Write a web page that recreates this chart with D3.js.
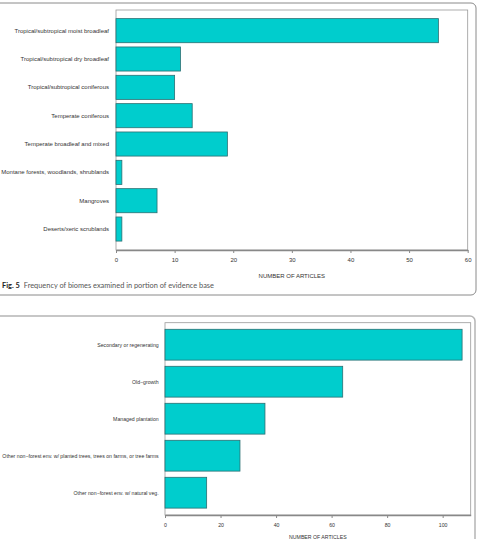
<!DOCTYPE html>
<html>
<head>
<meta charset="utf-8">
<script src="https://cdn.jsdelivr.net/npm/d3@7"></script>
<style>
  body { margin: 0; background: #fff; }
  svg { display: block; }
  .bar-label { font-family: "Liberation Sans", Arial, sans-serif; fill: #333; }
  .axis text { font-family: "Liberation Sans", Arial, sans-serif; fill: #333; }
  .axis-title { font-family: "Liberation Sans", Arial, sans-serif; fill: #333; }
  .caption { font-family: Lato, "Open Sans", sans-serif; font-size: 7.4px; }
</style>
</head>
<body>
<svg id="chart" width="478" height="539"></svg>
<script>
// top panel: biomes
const biomes = [
  "Tropical/subtropical moist broadleaf",
  "Tropical/subtropical dry broadleaf",
  "Tropical/subtropical coniferous",
  "Temperate coniferous",
  "Temperate broadleaf and mixed",
  "Montane forests, woodlands, shrublands",
  "Mangroves",
  "Deserts/xeric scrublands",
];
const biomeCounts = [55, 11, 10, 13, 19, 1, 7, 1];
const biomeTicks = [0, 10, 20, 30, 40, 50, 60];

// bottom panel: forest types
const forestTypes = [
  "Secondary or regenerating",
  "Old\u2212growth",
  "Managed plantation",
  "Other non\u2212forest env. w/ planted trees, trees on farms, or tree farms",
  "Other non\u2212forest env. w/ natural veg.",
];
const forestCounts = [107, 64, 36, 27, 15];
const forestTicks = [0, 20, 40, 60, 80, 100];

const axisTitle = "NUMBER OF ARTICLES";

const svg = d3.select("#chart");

function drawPanelBox(box) {
  svg
    .append("rect")
    .attr("x", box.x)
    .attr("y", box.y)
    .attr("width", box.w)
    .attr("height", box.h)
    .attr("rx", 5)
    .attr("fill", "none")
    .attr("stroke", box.color)
    .attr("stroke-width", box.width);
}

function drawBarChart(categories, values, ticks, cfg) {
  const g = svg.append("g");

  const x = d3.scaleLinear().domain([0, cfg.xMax]).range([cfg.left, cfg.right]);
  const y = d3
    .scaleBand()
    .domain(categories)
    .range([cfg.bandTop, cfg.bandBottom])
    .paddingInner(cfg.pad)
    .paddingOuter(cfg.pad / 2);

  // plot frame
  g.append("rect")
    .attr("x", cfg.left)
    .attr("y", cfg.top)
    .attr("width", cfg.right - cfg.left)
    .attr("height", cfg.bottom - cfg.top)
    .attr("fill", "none")
    .attr("stroke", "#999")
    .attr("stroke-width", 0.8);

  g.selectAll(".bar")
    .data(categories)
    .enter()
    .append("rect")
    .attr("class", "bar")
    .attr("x", x(0))
    .attr("y", (d) => y(d))
    .attr("width", (d, i) => x(values[i]) - x(0))
    .attr("height", y.bandwidth())
    .attr("fill", "#00cdcd")
    .attr("stroke", "#2b6f72")
    .attr("stroke-width", 0.8);

  g.selectAll(".bar-label")
    .data(categories)
    .enter()
    .append("text")
    .attr("class", "bar-label")
    .attr("x", cfg.left - cfg.labelGap)
    .attr("y", (d) => y(d) + y.bandwidth() / 2)
    .attr("dy", "0.35em")
    .attr("text-anchor", "end")
    .style("font-size", cfg.fontSize + "px")
    .text((d) => d);

  const axis = g
    .append("g")
    .attr("class", "axis")
    .attr("transform", `translate(0,${cfg.bottom})`)
    .call(d3.axisBottom(x).tickValues(ticks).tickSize(3).tickPadding(5).tickSizeOuter(0));
  axis.select(".domain").attr("stroke", "#888").attr("stroke-width", 1.5);
  axis.selectAll(".tick line").attr("stroke", "#888");
  axis.selectAll("text").style("font-size", cfg.fontSize + "px");

  g.append("text")
    .attr("class", "axis-title")
    .attr("x", (cfg.left + cfg.right) / 2)
    .attr("y", cfg.titleY)
    .attr("text-anchor", "middle")
    .style("font-size", cfg.fontSize + "px")
    .text(axisTitle);
}

drawPanelBox({ x: -5, y: 3, w: 481, h: 292, color: "#8a8a8a", width: 1 });
drawPanelBox({ x: -5, y: 316, w: 480, h: 260, color: "#b5b5b5", width: 1.5 });

drawBarChart(biomes, biomeCounts, biomeTicks, {
  xMax: 60,
  left: 116,
  right: 467.7,
  top: 10,
  bottom: 250,
  bandTop: 16.5,
  bandBottom: 243.2,
  pad: 0.15,
  labelGap: 7,
  fontSize: 6,
  titleY: 277.5,
});

drawBarChart(forestTypes, forestCounts, forestTicks, {
  xMax: 110.1,
  left: 165,
  right: 470.7,
  top: 322.7,
  bottom: 515,
  bandTop: 326.2,
  bandBottom: 511.2,
  pad: 0.167,
  labelGap: 6.3,
  fontSize: 5.2,
  titleY: 539,
});

// figure caption
const caption = svg
  .append("text")
  .attr("class", "caption")
  .attr("x", 2)
  .attr("y", 288);
caption.append("tspan").attr("font-weight", "bold").attr("fill", "#222").text("Fig. 5");
caption.append("tspan").attr("dx", 4).attr("fill", "#555").text("Frequency of biomes examined in portion of evidence base");
</script>
</body>
</html>
